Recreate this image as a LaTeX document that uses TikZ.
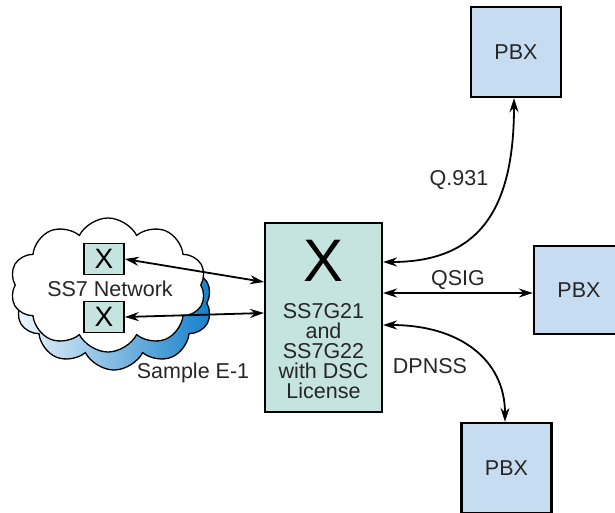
\documentclass[tikz,border=0pt]{standalone}
\usepackage{fontspec}
\setmainfont{Liberation Sans}
\usetikzlibrary{shapes.symbols,arrows.meta}
\definecolor{boxteal}{HTML}{C6E4DF}
\definecolor{pbxblue}{HTML}{C6DDF1}
\definecolor{shadowL}{HTML}{EEF5FC}
\definecolor{shadowR}{HTML}{1580CA}
\begin{document}
\begin{tikzpicture}[x=1pt,y=-1pt,
  txt/.style={font=\fontsize{21.5}{20}\selectfont, text=black!85},
  pbx/.style={draw, line width=2.4pt, fill=pbxblue, minimum width=90pt, minimum height=90pt, inner sep=0pt, txt},
  xbox/.style={draw, line width=1.6pt, fill=boxteal, minimum width=40pt, minimum height=31pt, inner sep=0pt, font=\fontsize{28}{28}\selectfont},
  conn/.style={line width=1.8pt, {Stealth[length=14pt,width=9pt]}-{Stealth[length=14pt,width=9pt]}},
  cloudy/.style={cloud, cloud puffs=10, cloud puff arc=125, minimum width=196pt, minimum height=134pt, inner sep=0pt, line width=1.3pt}
]
\useasboundingbox (0,0) rectangle (615,512);
% cloud
\node[cloudy, draw, left color=shadowL, right color=shadowR] (shadow) at (114,303) {};
\node[cloudy, draw, fill=white] (cloud) at (108,285) {};
\node[txt] (ss7) at (110,289) {SS7 Network};
\node[xbox] (x1) at (104,259) {X};
\node[xbox] (x2) at (104,317) {X};
\node[txt] (sample) at (193,373) {Sample E-1};
% main box
\node[draw, line width=2pt, fill=boxteal, minimum width=117pt, minimum height=189pt, inner sep=0pt] (main) at (323.5,317.5) {};
\node[font=\fontsize{60}{60}\selectfont] (bigx) at (323.5,261) {X};
\node[txt, align=center] (label) at (323.5,351) {SS7G21\\and\\SS7G22\\with DSC\\License};
% PBX boxes
\node[pbx] (pbx1) at (516,52) {PBX};
\node[pbx, minimum height=88pt] (pbx2) at (579,290) {PBX};
\node[pbx] (pbx3) at (506.5,468) {PBX};
% connectors
\draw[conn] (x1.east) -- ([yshift=35.5pt]main.west);
\draw[conn] (x2.east) -- ([yshift=4.5pt]main.west);
\draw[conn] ([yshift=55.5pt]main.east) .. controls (475,262) and (514,215) .. ([xshift=-2pt]pbx1.south);
\draw[conn] ([yshift=24.5pt]main.east) -- ([yshift=-3pt]pbx2.west);
\draw[conn] ([yshift=-7.5pt]main.east) .. controls (460,325) and (505,360) .. ([xshift=-1.5pt]pbx3.north);
% labels
\node[txt] (lq) at (459,180) {Q.931};
\node[txt] (lqsig) at (458,280) {QSIG};
\node[txt] (ldp) at (430,366) {DPNSS};
\end{tikzpicture}
\end{document}
